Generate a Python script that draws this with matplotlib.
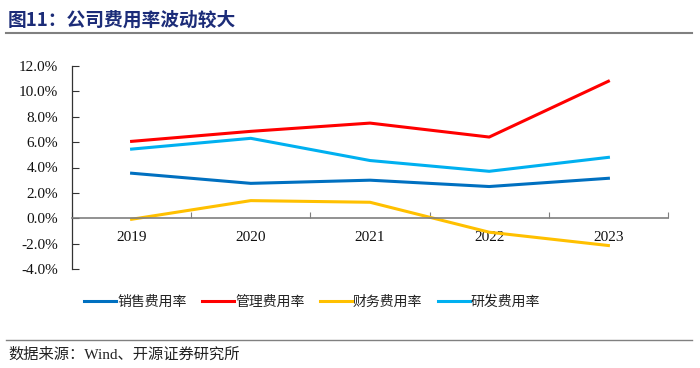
import numpy as np
import matplotlib.pyplot as plt
from matplotlib.lines import Line2D
from matplotlib.ticker import FuncFormatter, FixedLocator

years = ['2019', '2020', '2021', '2022', '2023']
sales = [3.55, 2.75, 3.0, 2.5, 3.15]
admin = [6.06, 6.85, 7.5, 6.4, 10.8]
finance = [-0.08, 1.39, 1.26, -1.1, -2.15]
rnd = [5.45, 6.3, 4.55, 3.7, 4.8]

names = ['销售费用率', '管理费用率', '财务费用率', '研发费用率']
colors = ['#0070C0', '#FF0000', '#FFC000', '#00B0F0']

cjk = ['Noto Sans CJK SC', 'DejaVu Sans']
serif = ['Liberation Serif', 'Noto Sans CJK SC']

fig = plt.figure(figsize=(7, 3.68), dpi=100)
ax = fig.add_axes([72/700, 1-269/368, (668-72)/700, (269-66)/368])

x = np.arange(len(years))
for vals, c, n in zip([sales, admin, finance, rnd], colors, names):
    ax.plot(x, vals, color=c, lw=2.2, label=n)

ax.set_xlim(-0.5, 4.5)
ax.set_ylim(-4, 12)
ax.yaxis.set_major_locator(FixedLocator(np.arange(-4, 12.1, 2)))
ax.yaxis.set_major_formatter(FuncFormatter(lambda v, p: f'{v:.1f}%'))

for s in ['top', 'right']:
    ax.spines[s].set_visible(False)
ax.spines['left'].set_color('#333333')
ax.spines['left'].set_linewidth(0.9)
ax.spines['bottom'].set_position(('data', 0))
ax.spines['bottom'].set_color('#7f7f7f')
ax.spines['bottom'].set_linewidth(1.2)

ax.xaxis.set_major_locator(FixedLocator(np.arange(-0.5, 4.6, 1)))
ax.xaxis.set_major_formatter(FuncFormatter(lambda v, p: ''))
ax.set_xticks(x, years, minor=True)
ax.tick_params(axis='x', which='major', direction='in', length=4, color='#7f7f7f')
ax.tick_params(axis='x', which='minor', length=0, pad=9, labelsize=11)
ax.tick_params(axis='y', direction='in', length=5, labelsize=11, pad=10, color='#333333')
for lab in ax.get_xticklabels(minor=True) + ax.get_yticklabels():
    lab.set_family(serif)
    lab.set_color('#111111')

leg = fig.legend(loc='center', bbox_to_anchor=(312/700, 1-302/368), ncol=4,
                 frameon=False, handlelength=2.3, handletextpad=0.1,
                 columnspacing=1.1, prop={'family': cjk, 'size': 10})
for t in leg.get_texts():
    t.set_color('#222222')

fig.text(8/700, 1-20/368, '图11：公司费用率波动较大', family=cjk, fontsize=13.5,
         fontweight='bold', color='#1C2C78', va='center')
fig.add_artist(Line2D([6/700, 692/700], [1-33/368]*2, color='#808080', lw=1.5))
fig.add_artist(Line2D([6/700, 692/700], [1-340/368]*2, color='#808080', lw=1.0))
fig.text(8/700, 1-355/368, '数据来源：Wind、开源证券研究所', family=serif,
         fontsize=11, color='#222222', va='center')

fig.savefig('out.png', dpi=100)
